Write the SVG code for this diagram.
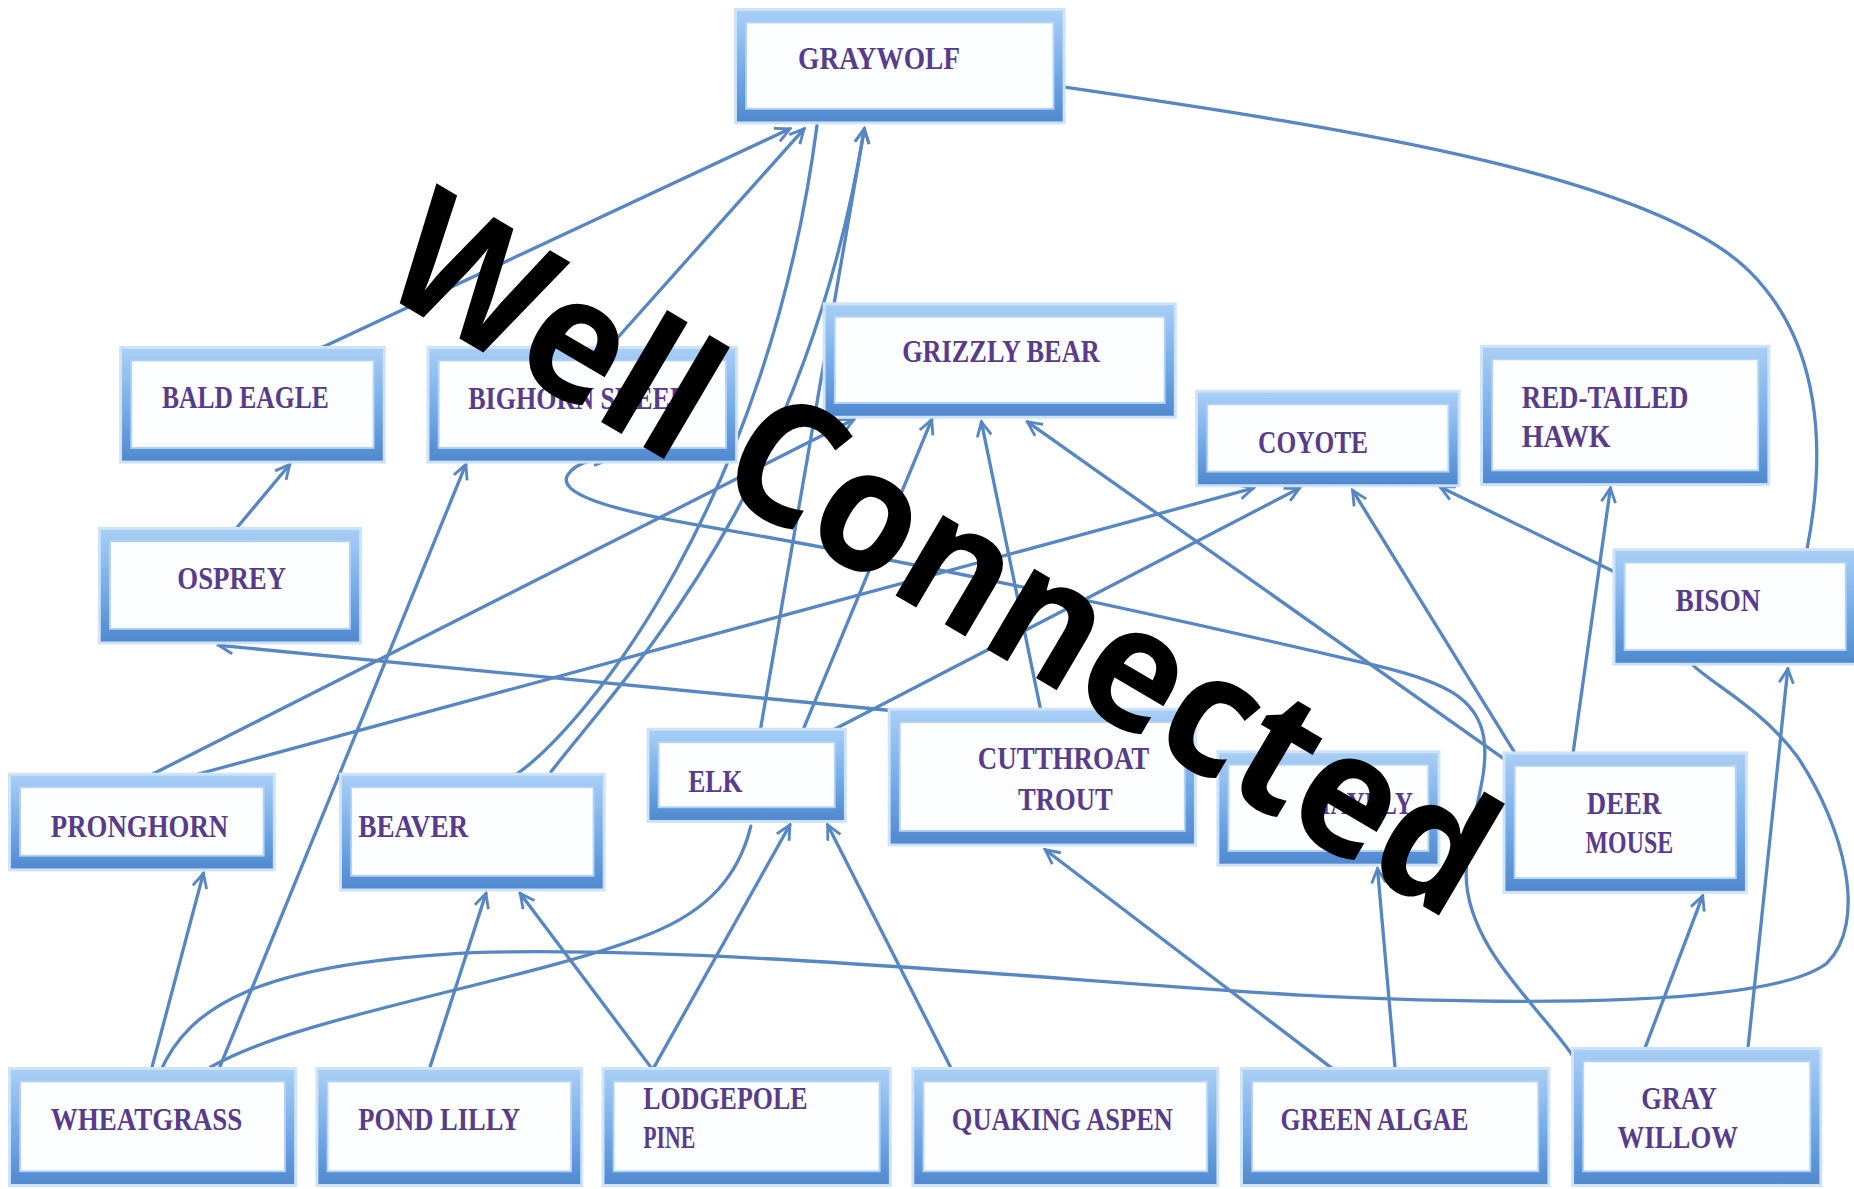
<svg xmlns="http://www.w3.org/2000/svg" width="1854" height="1189" viewBox="0 0 1854 1189">
<defs>
<linearGradient id="fg" x1="0" y1="0" x2="0" y2="1">
<stop offset="0" stop-color="#a9cff5"/>
<stop offset="0.5" stop-color="#79aee8"/>
<stop offset="1" stop-color="#4f88cf"/>
</linearGradient>
<marker id="ah" markerUnits="userSpaceOnUse" markerWidth="16" markerHeight="16" viewBox="0 0 16 16" refX="14" refY="8" orient="auto">
<path d="M2,2 L14,8 L2,14" fill="none" stroke="#5687c3" stroke-width="2.4" stroke-linejoin="miter"/>
</marker>
<style>
.c{fill:none;stroke:#5687c3;stroke-width:2.8;stroke-linecap:round}
.a{marker-end:url(#ah)}
.fr{fill:url(#fg);stroke:#cfe3f8;stroke-width:2.5}
.in{fill:#fdfeff;stroke:#b2d3f4;stroke-width:1.6}
.t{font-family:"Liberation Serif","DejaVu Serif",serif;font-weight:bold;font-size:26px;fill:#583c8a}
.m{text-anchor:middle}
.ov{font-family:"Open Sans","DejaVu Sans",sans-serif;font-weight:700;font-size:171px;fill:#000}
</style>
</defs>
<rect x="0" y="0" width="1854" height="1189" fill="#ffffff"/>
<g transform="scale(1.18240,1.18191)">
<g id="connectors">
<path class="c a" d="M270,295 L668,109"/>
<path class="c a" d="M515,294 L680,109"/>
<path class="c" d="M437,655 C500,610 650,420 691,106"/>
<path class="c a" d="M466,653 C530,570 680,420 731,109"/>
<path class="c a" d="M643,618 L731,109"/>
<path class="c" d="M902,74 C1150,110 1400,150 1480,230 C1540,290 1545,380 1528,466"/>
<path class="c a" d="M200,447 L245,393"/>
<path class="c a" d="M185,905 L394,393"/>
<path class="c a" d="M1330,893 C1300,850 1240,800 1240,740 C1240,700 1260,660 1255,625 C1250,590 1220,575 1150,560 C1000,525 800,480 600,446 C530,434 470,420 480,402 C488,390 505,388 515,389"/>
<path class="c" d="M178,903 C250,860 450,830 550,790 C600,770 625,740 635,699"/>
<path class="c" d="M135,908 C160,850 220,815 400,806 C600,800 900,830 1100,842 C1300,852 1500,850 1545,815 C1580,780 1560,700 1520,640 C1490,600 1450,580 1432,563"/>
<path class="c a" d="M128,905 L172,739"/>
<path class="c a" d="M363,905 L411,756"/>
<path class="c a" d="M552,905 L440,756"/>
<path class="c a" d="M552,905 L668,698"/>
<path class="c a" d="M805,905 L700,698"/>
<path class="c a" d="M1128,905 L884,719"/>
<path class="c a" d="M1180,905 L1165,735"/>
<path class="c a" d="M1390,890 L1440,758"/>
<path class="c a" d="M1478,890 L1512,566"/>
<path class="c a" d="M1330,640 L1362,413"/>
<path class="c a" d="M1283,640 L1144,415"/>
<path class="c a" d="M1272,642 L869,357"/>
<path class="c a" d="M1370,486 L1218,412"/>
<path class="c a" d="M160,657 L1060,413"/>
<path class="c a" d="M125,657 L722,355"/>
<path class="c a" d="M700,620 L1099,413"/>
<path class="c a" d="M679,618 L788,355"/>
<path class="c a" d="M880,600 L830,357"/>
<path class="c a" d="M762,602 L185,546"/>
</g>
<g id="n-graywolf"><rect class="fr" x="622" y="8" width="278" height="96"/><rect class="in" x="631" y="19" width="260" height="73"/><text class="t m" x="743.5" y="58" textLength="137" lengthAdjust="spacingAndGlyphs">GRAYWOLF</text></g>
<g id="n-baldeagle"><rect class="fr" x="102" y="294" width="223" height="97"/><rect class="in" x="111" y="305" width="205" height="74"/><text class="t m" x="207.5" y="345" textLength="141" lengthAdjust="spacingAndGlyphs">BALD EAGLE</text></g>
<g id="n-bighornsheep"><rect class="fr" x="362" y="294" width="261" height="97"/><rect class="in" x="371" y="305" width="243" height="74"/><text class="t" x="396" y="346" textLength="184" lengthAdjust="spacingAndGlyphs">BIGHORN SHEEP</text></g>
<g id="n-grizzlybear"><rect class="fr" x="697" y="257" width="297" height="96"/><rect class="in" x="706" y="268" width="279" height="73"/><text class="t m" x="846.5" y="306" textLength="167" lengthAdjust="spacingAndGlyphs">GRIZZLY BEAR</text></g>
<g id="n-coyote"><rect class="fr" x="1012" y="331" width="222" height="80"/><rect class="in" x="1021" y="342" width="204" height="57"/><text class="t m" x="1110.5" y="383" textLength="93" lengthAdjust="spacingAndGlyphs">COYOTE</text></g>
<g id="n-redtailedhawk"><rect class="fr" x="1253" y="293" width="243" height="117"/><rect class="in" x="1262" y="304" width="225" height="94"/><text class="t" x="1287" y="345" textLength="141" lengthAdjust="spacingAndGlyphs">RED-TAILED</text><text class="t" x="1287" y="378" textLength="75" lengthAdjust="spacingAndGlyphs">HAWK</text></g>
<g id="n-osprey"><rect class="fr" x="84" y="447" width="221" height="97"/><rect class="in" x="93" y="458" width="203" height="74"/><text class="t m" x="196" y="498" textLength="92" lengthAdjust="spacingAndGlyphs">OSPREY</text></g>
<g id="n-bison"><rect class="fr" x="1365" y="465" width="205" height="97"/><rect class="in" x="1374" y="476" width="187" height="74"/><text class="t m" x="1453" y="517" textLength="72" lengthAdjust="spacingAndGlyphs">BISON</text></g>
<g id="n-pronghorn"><rect class="fr" x="8" y="655" width="224" height="81"/><rect class="in" x="17" y="666" width="206" height="58"/><text class="t m" x="118" y="708" textLength="150" lengthAdjust="spacingAndGlyphs">PRONGHORN</text></g>
<g id="n-beaver"><rect class="fr" x="288" y="655" width="223" height="98"/><rect class="in" x="297" y="666" width="205" height="75"/><text class="t" x="303" y="708" textLength="93" lengthAdjust="spacingAndGlyphs">BEAVER</text></g>
<g id="n-elk"><rect class="fr" x="548" y="617" width="167" height="78"/><rect class="in" x="557" y="628" width="149" height="55"/><text class="t m" x="605" y="670" textLength="46" lengthAdjust="spacingAndGlyphs">ELK</text></g>
<g id="n-cutthroattrout"><rect class="fr" x="752" y="600" width="259" height="115"/><rect class="in" x="761" y="611" width="241" height="92"/><text class="t m" x="899.5" y="651" textLength="145" lengthAdjust="spacingAndGlyphs">CUTTHROAT</text><text class="t m" x="901" y="685" textLength="80" lengthAdjust="spacingAndGlyphs">TROUT</text></g>
<g id="n-mayfly"><rect class="fr" x="1030" y="636" width="187" height="96"/><rect class="in" x="1039" y="647" width="169" height="73"/><text class="t m" x="1150" y="689" textLength="90" lengthAdjust="spacingAndGlyphs">MAYFLY</text></g>
<g id="n-deermouse"><rect class="fr" x="1272" y="637" width="205" height="118"/><rect class="in" x="1281" y="648" width="187" height="95"/><text class="t m" x="1373.5" y="689" textLength="63" lengthAdjust="spacingAndGlyphs">DEER</text><text class="t m" x="1378" y="722" textLength="74" lengthAdjust="spacingAndGlyphs">MOUSE</text></g>
<g id="n-wheatgrass"><rect class="fr" x="8" y="904" width="242" height="99"/><rect class="in" x="17" y="915" width="224" height="76"/><text class="t m" x="124" y="956" textLength="162" lengthAdjust="spacingAndGlyphs">WHEATGRASS</text></g>
<g id="n-pondlilly"><rect class="fr" x="268" y="904" width="224" height="99"/><rect class="in" x="277" y="915" width="206" height="76"/><text class="t m" x="371.5" y="956" textLength="137" lengthAdjust="spacingAndGlyphs">POND LILLY</text></g>
<g id="n-lodgepolepine"><rect class="fr" x="510" y="904" width="243" height="99"/><rect class="in" x="519" y="915" width="225" height="76"/><text class="t" x="544" y="938" textLength="139" lengthAdjust="spacingAndGlyphs">LODGEPOLE</text><text class="t" x="544" y="971" textLength="44" lengthAdjust="spacingAndGlyphs">PINE</text></g>
<g id="n-quakingaspen"><rect class="fr" x="772" y="904" width="258" height="99"/><rect class="in" x="781" y="915" width="240" height="76"/><text class="t m" x="898.5" y="956" textLength="187" lengthAdjust="spacingAndGlyphs">QUAKING ASPEN</text></g>
<g id="n-greenalgae"><rect class="fr" x="1050" y="904" width="260" height="99"/><rect class="in" x="1059" y="915" width="242" height="76"/><text class="t m" x="1162.5" y="956" textLength="159" lengthAdjust="spacingAndGlyphs">GREEN ALGAE</text></g>
<g id="n-graywillow"><rect class="fr" x="1330" y="887" width="210" height="116"/><rect class="in" x="1339" y="898" width="192" height="93"/><text class="t m" x="1420" y="938" textLength="64" lengthAdjust="spacingAndGlyphs">GRAY</text><text class="t m" x="1419" y="971" textLength="102" lengthAdjust="spacingAndGlyphs">WILLOW</text></g>
</g>
<g id="overlay">
<text class="ov" transform="translate(374.4,288.4) rotate(30.5)" textLength="1248" lengthAdjust="spacingAndGlyphs">Well Connected</text>
</g>
</svg>
